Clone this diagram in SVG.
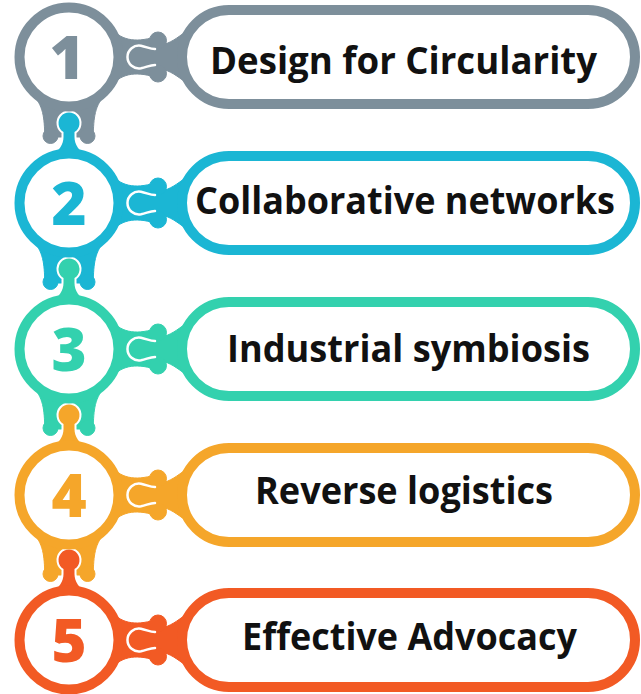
<svg xmlns="http://www.w3.org/2000/svg" xmlns:xlink="http://www.w3.org/1999/xlink" width="641" height="694" viewBox="0 0 641 694">
  <style>
    .ring { fill: #ffffff; stroke-width: 10; }
    .pill { fill: #ffffff; stroke-width: 10; }
    .num { font-family: "Open Sans", "Noto Sans", "DejaVu Sans", sans-serif; font-weight: 800; font-size: 60px; text-anchor: middle; }
    .label { font-family: "Open Sans", "Noto Sans", "DejaVu Sans", sans-serif; font-weight: 700; font-size: 37px; fill: #111111; }
    .gap { fill: none; stroke: #ffffff; stroke-width: 2.5; stroke-linecap: round; }
    .head { stroke: #ffffff; stroke-width: 4; paint-order: stroke; stroke-linejoin: round; }
    .c1 { fill: #7d8f9b; stroke: #7d8f9b; }
    .c2 { fill: #1bb6d4; stroke: #1bb6d4; }
    .c3 { fill: #33d1ae; stroke: #33d1ae; }
    .c4 { fill: #f5a62a; stroke: #f5a62a; }
    .c5 { fill: #f25a24; stroke: #f25a24; }
  </style>
  <defs>
    <!-- horizontal link between a number ring and its label pill (centred on y=0) -->
    <g id="hlink">
      <path d="M108 -34 C117 -18 132 -14 151 -19 L165 -13 C172 -15 180 -21 189 -28 L189 28 C180 21 172 15 165 13 L151 19 C132 14 117 18 108 34 Z"/>
      <circle cx="158" cy="-16.5" r="8.5"/>
      <circle cx="158" cy="16.5" r="8.5"/>
    </g>
    <!-- white seam outlining the pill-side knob inside the socket -->
    <path id="hseam" d="M155 -8 C150 -8 147 -10 141 -11.32 A11.5 11.5 0 1 0 141 11.32 C147 10 150 8 155 8"/>
    <!-- socket hanging below a ring (relative to ring centre) -->
    <g id="vsock">
      <path d="M33 38 C45 50 44 66 45 80 L93 80 C94 66 93 50 105 38 Z"/>
      <circle cx="50.5" cy="79" r="7.5"/>
      <circle cx="87.5" cy="79" r="7.5"/>
    </g>
    <!-- knob rising from the top of the next ring (relative to that ring's centre) -->
    <path id="vhead" d="M51 -46 C59 -53 63.5 -58 63.5 -66 L63.5 -71.06 A10.5 10.5 0 1 1 74.5 -71.06 L74.5 -66 C74.5 -58 79 -53 87 -46 Z"/>
  </defs>

  <g id="connectors">
    <!-- ring to pill links -->
    <use xlink:href="#hlink" href="#hlink" class="c1" transform="translate(0,57)"/>
    <use xlink:href="#hlink" href="#hlink" class="c2" transform="translate(0,203)"/>
    <use xlink:href="#hlink" href="#hlink" class="c3" transform="translate(0,349)"/>
    <use xlink:href="#hlink" href="#hlink" class="c4" transform="translate(0,495)"/>
    <use xlink:href="#hlink" href="#hlink" class="c5" transform="translate(0,640)"/>
    <use xlink:href="#hseam" href="#hseam" class="gap" transform="translate(0,57)"/>
    <use xlink:href="#hseam" href="#hseam" class="gap" transform="translate(0,203)"/>
    <use xlink:href="#hseam" href="#hseam" class="gap" transform="translate(0,349)"/>
    <use xlink:href="#hseam" href="#hseam" class="gap" transform="translate(0,495)"/>
    <use xlink:href="#hseam" href="#hseam" class="gap" transform="translate(0,640)"/>
    <!-- ring to ring links -->
    <use xlink:href="#vsock" href="#vsock" class="c1" transform="translate(0,57)"/>
    <use xlink:href="#vsock" href="#vsock" class="c2" transform="translate(0,203)"/>
    <use xlink:href="#vsock" href="#vsock" class="c3" transform="translate(0,349)"/>
    <use xlink:href="#vsock" href="#vsock" class="c4" transform="translate(0,495)"/>
    <g class="head">
      <use xlink:href="#vhead" href="#vhead" fill="#1bb6d4" transform="translate(0,203)"/>
      <use xlink:href="#vhead" href="#vhead" fill="#33d1ae" transform="translate(0,349)"/>
      <use xlink:href="#vhead" href="#vhead" fill="#f5a62a" transform="translate(0,495)"/>
      <use xlink:href="#vhead" href="#vhead" fill="#f25a24" transform="translate(0,640)"/>
    </g>
  </g>

  <g id="step-1">
    <circle class="ring c1" cx="69" cy="57" r="49.5" style="fill:#fff"/>
    <text class="num" x="67" y="79" fill="#7d8f9b">1</text>
    <rect class="pill c1" x="182" y="10" width="453" height="94" rx="47" style="fill:#fff"/>
    <text class="label" x="210" y="74" textLength="387" lengthAdjust="spacingAndGlyphs">Design for Circularity</text>
  </g>
  <g id="step-2">
    <circle class="ring c2" cx="69" cy="203" r="49.5" style="fill:#fff"/>
    <text class="num" x="69" y="225" fill="#1bb6d4">2</text>
    <rect class="pill c2" x="182" y="156" width="453" height="94" rx="47" style="fill:#fff"/>
    <text class="label" x="195" y="214" textLength="420" lengthAdjust="spacingAndGlyphs">Collaborative networks</text>
  </g>
  <g id="step-3">
    <circle class="ring c3" cx="69" cy="349" r="49.5" style="fill:#fff"/>
    <text class="num" x="69" y="371" fill="#33d1ae">3</text>
    <rect class="pill c3" x="182" y="302" width="453" height="94" rx="47" style="fill:#fff"/>
    <text class="label" x="227" y="362" textLength="363" lengthAdjust="spacingAndGlyphs">Industrial symbiosis</text>
  </g>
  <g id="step-4">
    <circle class="ring c4" cx="69" cy="495" r="49.5" style="fill:#fff"/>
    <text class="num" x="69" y="517" fill="#f5a62a">4</text>
    <rect class="pill c4" x="182" y="448" width="453" height="94" rx="47" style="fill:#fff"/>
    <text class="label" x="255" y="504" textLength="298" lengthAdjust="spacingAndGlyphs">Reverse logistics</text>
  </g>
  <g id="step-5">
    <circle class="ring c5" cx="69" cy="640" r="49.5" style="fill:#fff"/>
    <text class="num" x="69" y="662" fill="#f25a24">5</text>
    <rect class="pill c5" x="182" y="593" width="453" height="94" rx="47" style="fill:#fff"/>
    <text class="label" x="242" y="650" textLength="335" lengthAdjust="spacingAndGlyphs">Effective Advocacy</text>
  </g>
</svg>
